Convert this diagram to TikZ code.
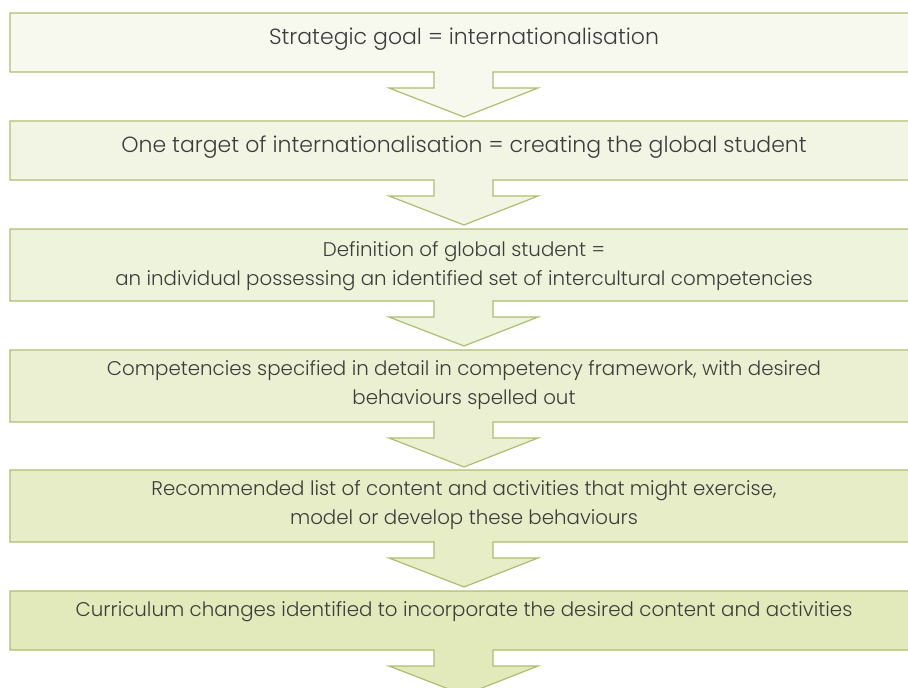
\documentclass[tikz,border=0pt]{standalone}
\usepackage{fontspec}
\setmainfont{Poppins}[UprightFont=*-Light]
\usepackage{xcolor}

\definecolor{edgegreen}{HTML}{AFBD6E}
\definecolor{textgrey}{HTML}{3C3C3C}
\definecolor{fillA}{HTML}{F7F9EF}
\definecolor{fillB}{HTML}{F2F5E4}
\definecolor{fillC}{HTML}{EEF3DB}
\definecolor{fillD}{HTML}{EAF0D1}
\definecolor{fillE}{HTML}{E6EDC7}
\definecolor{fillF}{HTML}{E2EABC}

% box with its arrow below: #1 top, #2 bottom, #3 fill
\newcommand{\StepBox}[3]{%
  \draw[stepedge, fill=#3] (10,#1) -- (930,#1) -- (930,#2) -- (493,#2)
    -- (493,#2+16) -- (538,#2+16) -- (464,#2+45) -- (389,#2+16)
    -- (434,#2+16) -- (434,#2) -- (10,#2) -- cycle;}

\tikzset{
  stepedge/.style={draw=edgegreen, line width=1.2pt, line join=miter},
  steptext/.style={text=textgrey, align=center, font=\fontsize{19.8}{29}\selectfont},
  bigtext/.style={steptext, font=\fontsize{22}{29}\selectfont}
}

\begin{document}
\begin{tikzpicture}[x=1pt, y=-1pt]
 \useasboundingbox (0,0) rectangle (908,688);
 \clip (0,0) rectangle (908,688);

 \StepBox{13}{72}{fillA}
 \StepBox{121}{180}{fillB}
 \StepBox{229}{301}{fillC}
 \StepBox{350}{422}{fillD}
 \StepBox{470}{542}{fillE}
 \StepBox{591}{650}{fillF}

 \node[bigtext] (goal) at (464,39) {Strategic goal = internationalisation};
 \node[bigtext] (target) at (464,147) {One target of internationalisation = creating the global student};
 \node[steptext] (definition) at (464,266) {Definition of global student =\\an individual possessing an identified set of intercultural competencies};
 \node[steptext] (framework) at (464,385) {Competencies specified in detail in competency framework, with desired\\behaviours spelled out};
 \node[steptext] (content) at (464,505) {Recommended list of content and activities that might exercise,\\model or develop these behaviours};
 \node[steptext] (curriculum) at (464,612) {Curriculum changes identified to incorporate the desired content and activities};
\end{tikzpicture}
\end{document}
